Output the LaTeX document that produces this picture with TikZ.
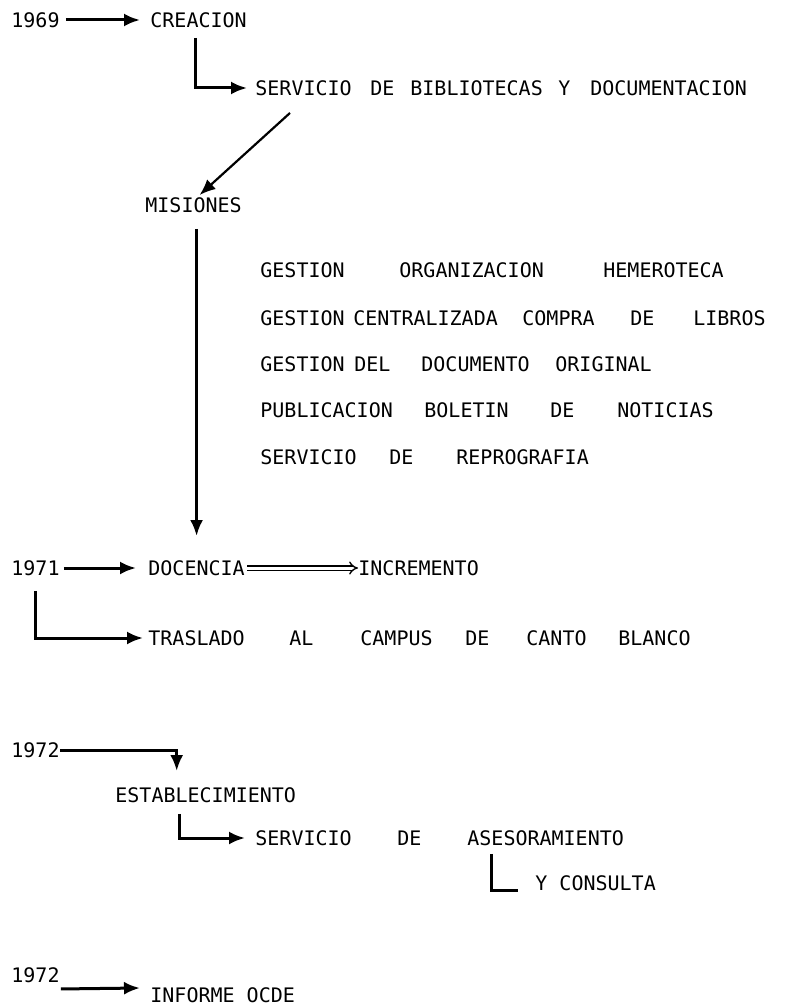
\documentclass[tikz,border=0pt]{standalone}
\usepackage{fontspec}
\setmonofont{DejaVu Sans Mono}
\usetikzlibrary{arrows.meta,calc}
\newlength\pxu
\setlength\pxu{0.5pt}
\newcommand{\wcell}[2]{\makebox[#1\pxu][l]{#2}}

\begin{document}
\begin{tikzpicture}[x=0.5pt,y=-0.5pt,
    t/.style={anchor=west,inner sep=0pt,font=\ttfamily\fontsize{10}{11}\selectfont},
    a/.style={-{Latex[length=8pt,width=6.5pt]},line width=1.5pt},
    ln/.style={line width=1.5pt},
    dbl/.style={-{Implies},double,double distance=1.5pt,line width=0.7pt}]
  \useasboundingbox (0,0) rectangle (785,1006);
  % 1969
  \node[t] (n1969) at (11,20) {1969};
  \node[t] (crea) at (150,20) {CREACION};
  \node[t] (sbd) at (255,88) {\wcell{115}{SERVICIO}\wcell{40}{DE}\wcell{148}{BIBLIOTECAS}\wcell{32}{Y}DOCUMENTACION};
  \node[t] (mis) at (145,205) {MISIONES};
  % misiones
  \node[t] (ma) at (260,270) {\wcell{139}{GESTION}\wcell{204}{ORGANIZACION}HEMEROTECA};
  \node[t] (mb) at (260,318) {\wcell{93}{GESTION}\wcell{169}{CENTRALIZADA}\wcell{108}{COMPRA}\wcell{63}{DE}LIBROS};
  \node[t] (mc) at (260,364) {\wcell{94}{GESTION}\wcell{67}{DEL}\wcell{134}{DOCUMENTO}ORIGINAL};
  \node[t] (md) at (260,410) {\wcell{164}{PUBLICACION}\wcell{126}{BOLETIN}\wcell{67}{DE}NOTICIAS};
  \node[t] (me) at (260,457) {\wcell{129}{SERVICIO}\wcell{67}{DE}REPROGRAFIA};
  % 1971
  \node[t] (n1971) at (11,568) {1971};
  \node[t] (doc) at (148,568) {DOCENCIA};
  \node[t] (inc) at (358,568) {INCREMENTO};
  \node[t] (trs) at (148,638) {\wcell{141}{TRASLADO}\wcell{71}{AL}\wcell{105}{CAMPUS}\wcell{61}{DE}\wcell{92}{CANTO}BLANCO};
  % 1972
  \node[t] (n1972a) at (11,750) {1972};
  \node[t] (est) at (115,795) {ESTABLECIMIENTO};
  \node[t] (ase) at (255,838) {\wcell{142}{SERVICIO}\wcell{70}{DE}ASESORAMIENTO};
  \node[t] (ycon) at (535,883) {Y CONSULTA};
  \node[t] (n1972b) at (11,975) {1972};
  \node[t] (info) at (150,995) {INFORME OCDE};

  \coordinate (d0) at ($(sbd.south west)+(35,17)$);
  \coordinate (e0) at ($(ase.south west)+(236,8)$);

  \draw[a,shorten <=3pt,shorten >=5pt] (n1969.east) -- (crea.west);
  \draw[a,shorten <=5pt,shorten >=4pt] ([xshift=-1.5pt]crea.south) |- (sbd.west);
  \draw[a,line width=1.1pt] (d0) -- ($(mis.north)+(6,-2)$);
  \draw[a,shorten <=8pt,shorten >=12pt] (doc.north |- mis.south) -- (doc.north);
  \draw[a,shorten <=2pt,shorten >=6pt] (n1971.east) -- (doc.west);
  \draw[dbl,shorten <=1pt] (doc.east) -- (inc.west);
  \draw[a,shorten <=7.5pt,shorten >=2.5pt] (n1971.south) |- (trs.west);
  \draw[a,shorten >=8pt] (n1972a.east) -| ([xshift=-14.5pt]est.north);
  \draw[a,shorten <=5.5pt,shorten >=5pt] ([xshift=-13pt]est.south) |- (ase.west);
  \draw[ln,shorten >=8.5pt] (e0) |- (ycon.south west);
  \draw[a] ($(n1972b.south east)+(1,6)$) -- ($(info.west)+(-10,-7)$);
\end{tikzpicture}
\end{document}
